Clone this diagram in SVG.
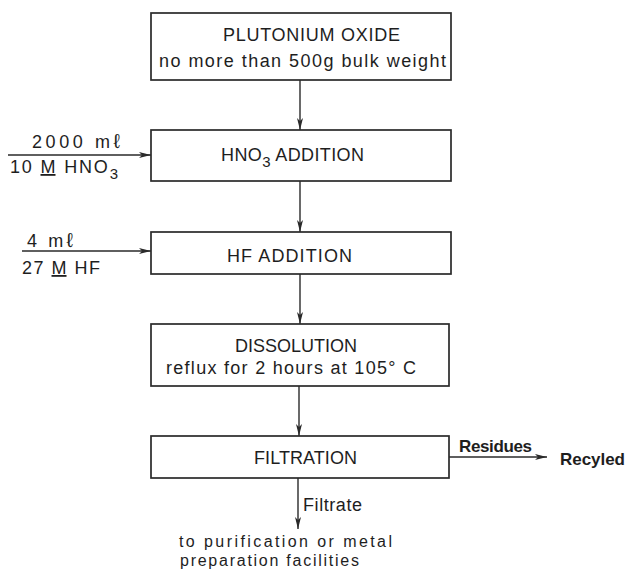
<svg xmlns="http://www.w3.org/2000/svg" width="626" height="570" viewBox="0 0 626 570">
<style>
  .box { fill: #ffffff; stroke: #2a2a2a; stroke-width: 1.7; }
  .conn { stroke: #2a2a2a; stroke-width: 1.4; fill: none; }
  text { font-family: "Liberation Sans", "DejaVu Sans", Arial, sans-serif; font-size: 18px; fill: #1e1e1e; }
  .b { font-weight: bold; font-size: 17px; }
  .sub { font-size: 15px; }
  .ell { font-size: 20px; }
  .sm { font-size: 16px; }
</style>
<defs>
  <marker id="ah" viewBox="0 0 12 6" markerUnits="userSpaceOnUse" markerWidth="12" markerHeight="6" refX="12" refY="3" orient="auto">
    <path d="M0,0 L12,3 L0,6 L3,3 z" fill="#2a2a2a"/>
  </marker>
</defs>
<rect width="626" height="570" fill="#ffffff"/>
<g id="connectors">
  <line class="conn" x1="300" y1="80" x2="300" y2="130" marker-end="url(#ah)"/>
  <line class="conn" x1="300" y1="181" x2="300" y2="232" marker-end="url(#ah)"/>
  <line class="conn" x1="300" y1="274" x2="300" y2="324" marker-end="url(#ah)"/>
  <line class="conn" x1="299" y1="386" x2="299" y2="436" marker-end="url(#ah)"/>
  <line class="conn" x1="298" y1="478" x2="298" y2="529" marker-end="url(#ah)"/>
  <line class="conn" x1="8" y1="155" x2="151" y2="155" marker-end="url(#ah)"/>
  <line class="conn" x1="22" y1="251" x2="151" y2="251" marker-end="url(#ah)"/>
  <line class="conn" x1="449" y1="457" x2="547" y2="457" marker-end="url(#ah)"/>
</g>
<g id="plutonium-oxide">
  <rect class="box" x="151" y="13" width="300" height="67"/>
  <text x="223" y="41" textLength="177" lengthAdjust="spacing">PLUTONIUM  OXIDE</text>
  <text x="159" y="67" textLength="287" lengthAdjust="spacing">no more than 500g bulk weight</text>
</g>
<g id="hno3-addition">
  <rect class="box" x="151" y="130" width="300" height="51"/>
  <text x="221" y="161" textLength="143" lengthAdjust="spacing">HNO<tspan class="sub" dy="6">3</tspan><tspan dy="-6"> ADDITION</tspan></text>
</g>
<g id="hno3-input">
  <text x="32" y="148" textLength="88" lengthAdjust="spacing">2000 m<tspan class="ell">ℓ</tspan></text>
  <text x="10" y="173" textLength="108" lengthAdjust="spacing">10 <tspan text-decoration="underline">M</tspan> HNO<tspan class="sub" dy="6">3</tspan></text>
</g>
<g id="hf-addition">
  <rect class="box" x="151" y="232" width="300" height="42"/>
  <text x="227" y="262" textLength="125" lengthAdjust="spacing">HF ADDITION</text>
</g>
<g id="hf-input">
  <text x="27" y="247" textLength="46" lengthAdjust="spacing">4 m<tspan class="ell">ℓ</tspan></text>
  <text x="22" y="274" textLength="78" lengthAdjust="spacing">27 <tspan text-decoration="underline">M</tspan> HF</text>
</g>
<g id="dissolution">
  <rect class="box" x="151" y="324" width="298" height="62"/>
  <text x="235" y="352" textLength="122" lengthAdjust="spacing">DISSOLUTION</text>
  <text x="166" y="374" textLength="250" lengthAdjust="spacing">reflux for 2 hours at 105° C</text>
</g>
<g id="filtration">
  <rect class="box" x="151" y="436" width="298" height="42"/>
  <text x="254" y="464" textLength="103" lengthAdjust="spacing">FILTRATION</text>
</g>
<g id="residues">
  <text class="b" x="459" y="452" textLength="73" lengthAdjust="spacing">Residues</text>
  <text class="b" x="560" y="465" textLength="65" lengthAdjust="spacing">Recyled</text>
</g>
<g id="filtrate">
  <text x="303" y="511" textLength="59" lengthAdjust="spacing">Filtrate</text>
  <text class="sm" x="179" y="547" textLength="213" lengthAdjust="spacing">to purification or metal</text>
  <text class="sm" x="180" y="566" textLength="179" lengthAdjust="spacing">preparation facilities</text>
</g>
</svg>
